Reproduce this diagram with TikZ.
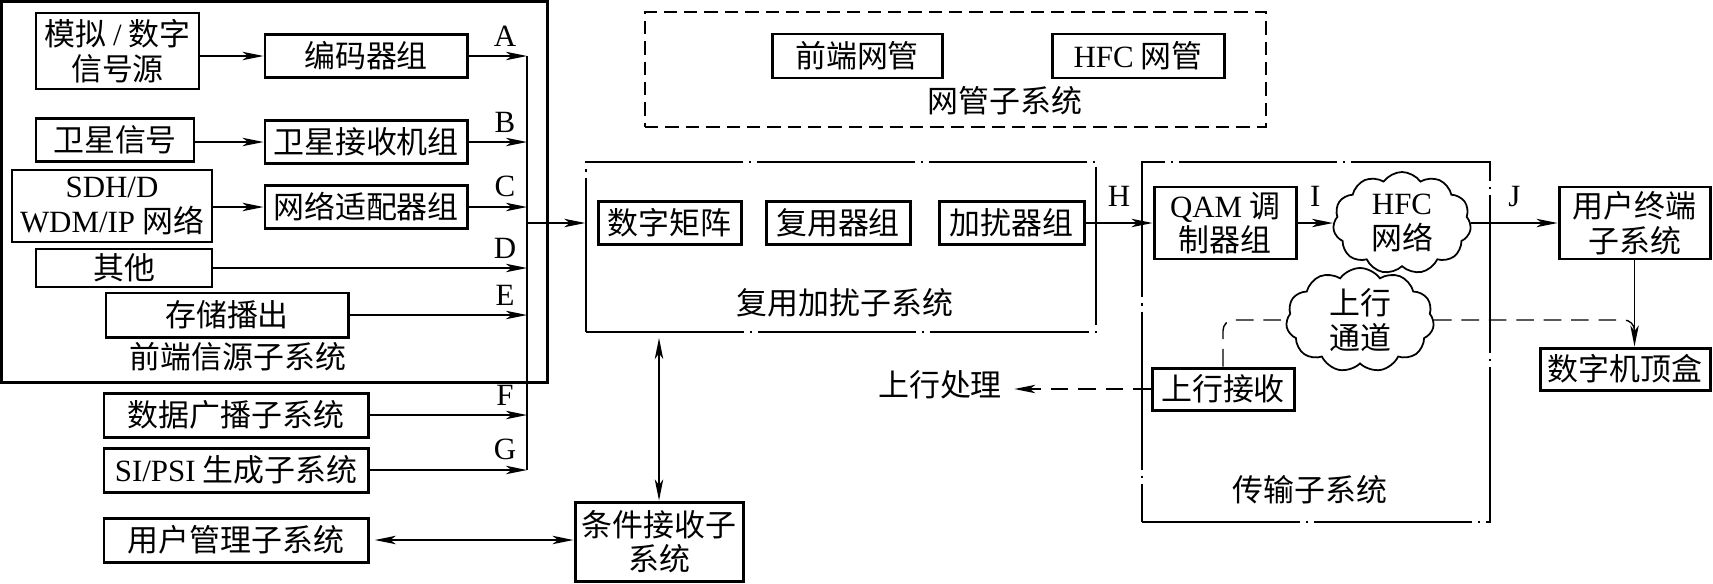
\documentclass[tikz,border=0pt]{standalone}
\usepackage{fontspec}
\setmainfont{Liberation Serif}
\newfontfamily\cjk{Noto Sans CJK SC}
\usetikzlibrary{arrows.meta, calc, positioning, shapes.symbols}
\newcommand{\la}[1]{{\rmfamily #1}}

\begin{document}
\begin{tikzpicture}[x=1cm, y=-1cm, >={Stealth[length=6pt,width=2.4pt,inset=1.6pt]},
  every node/.style={font=\cjk\fontsize{8.8pt}{9.8pt}\selectfont},
  box/.style 2 args={draw, line width=0.85pt, inner sep=0pt, align=center, minimum width=#1cm, minimum height=#2cm},
  frm/.style 2 args={draw, line width=0.4pt, inner sep=0pt, minimum width=#1cm, minimum height=#2cm, dash pattern=on 45pt off 1.7pt on 0.6pt off 1.7pt},
  cld/.style 2 args={cloud, draw, line width=0.5pt, cloud puffs=11, cloud puff arc=110, aspect=1.3, inner sep=0pt, align=center, minimum width=#1cm, minimum height=#2cm},
  arr/.style={->, line width=0.5pt},
  arr2/.style={<->, line width=0.5pt, shorten <=1.5pt},
  dsh/.style={line width=0.4pt, dash pattern=on 5pt off 2.8pt},
  lbl/.style={font=\fontsize{8.8pt}{9.8pt}\selectfont\rmfamily, above=-0.8pt, xshift=-2.2mm},
  mlbl/.style={font=\fontsize{8.8pt}{9.8pt}\selectfont\rmfamily, midway, above=1pt}]
  \useasboundingbox (0,0) rectangle (17.13,5.83);

  % front-end source subsystem
  \node[draw, line width=0.85pt, inner sep=0pt, minimum width=5.455cm, minimum height=3.805cm] (srcf) at (2.7425,1.9175) {};
  \node[box={1.63}{0.76}] (src) at (1.175,0.51) {模拟 \la{/} 数字\\信号源};
  \node[box={2.02}{0.43}] (enc) at (3.66,0.56) {编码器组};
  \node[box={1.58}{0.43}] (sat) at (1.15,1.40) {卫星信号};
  \node[box={2.02}{0.43}] (satrx) at (3.66,1.42) {卫星接收机组};
  \node[box={2.00}{0.72}] (sdh) at (1.12,2.06) {\la{SDH/D}\\\la{WDM/IP} 网络};
  \node[box={2.02}{0.43}] (netad) at (3.66,2.07) {网络适配器组};
  \node[box={1.76}{0.38}] (oth) at (1.24,2.68) {其他};
  \node[box={2.42}{0.44}] (store) at (2.27,3.15) {存储播出};
  \node (srcl) at (2.38,3.57) {前端信源子系统};
  \node[box={2.64}{0.44}] (data) at (2.36,4.15) {数据广播子系统};
  \node[box={2.64}{0.44}] (si) at (2.36,4.70) {\la{SI/PSI} 生成子系统};
  \node[box={2.64}{0.44}] (umg) at (2.36,5.40) {用户管理子系统};
  \node[box={1.68}{0.79}] (ca) at (6.59,5.415) {条件接收子\\系统};

  % network management
  \node[draw, line width=0.4pt, inner sep=0pt, minimum width=6.21cm, minimum height=1.15cm, dash pattern=on 3.8pt off 2pt] (nmsf) at (9.555,0.695) {};
  \node[box={1.70}{0.44}] (hnm) at (8.57,0.56) {前端网管};
  \node[box={1.72}{0.44}] (hfcnm) at (11.38,0.56) {\la{HFC} 网管};
  \node (nmsl) at (10.05,1.01) {网管子系统};

  % mux / scrambling
  \node[frm={5.10}{1.70}] (muxf) at (8.41,2.47) {};
  \node[box={1.43}{0.43}] (mat) at (6.695,2.23) {数字矩阵};
  \node[box={1.44}{0.43}] (mul) at (8.38,2.23) {复用器组};
  \node[box={1.45}{0.43}] (scr) at (10.115,2.23) {加扰器组};
  \node (muxl) at (8.45,3.03) {复用加扰子系统};

  % transmission
  \node[frm={3.48}{3.60}] (trf) at (13.16,3.42) {};
  \node[box={1.42}{0.72}] (qam) at (12.25,2.23) {\la{QAM} 调\\制器组};
  \node[cld={1.38}{1.02}] (hfc) at (14.02,2.23) {\la{HFC}\\网络};
  \node[cld={1.48}{1.04}] (upch) at (13.60,3.20) {上行\\通道};
  \node[box={1.42}{0.42}] (uprx) at (12.23,3.89) {上行接收};
  \node (trl) at (13.10,4.90) {传输子系统};
  \node (upp) at (9.40,3.85) {上行处理};

  % user side
  \node[box={1.51}{0.72}] (usr) at (16.345,2.23) {用户终端\\子系统};
  \node[box={1.70}{0.42}] (stb) at (16.25,3.69) {数字机顶盒};

  % connectors
  \coordinate (bus) at (5.27,0);
  \draw[arr] (src.east |- enc) -- (enc);
  \draw[arr] (sat.east |- satrx) -- (satrx);
  \draw[arr] (sdh.east |- netad) -- (netad);
  \foreach \n/\t in {enc/A, satrx/B, netad/C, oth/D, store/E, data/F, si/G}
    \draw[arr] (\n) -- (\n -| bus) node[lbl] {\t};
  \draw[line width=0.5pt] (enc -| bus) -- (si -| bus);
  \draw[arr] (mat -| bus) -- (mat -| muxf.west);
  \draw[arr] (scr) -- (qam) node[mlbl] {H};
  \draw[arr] (qam) -- (hfc) node[mlbl] {I};
  \draw[arr] (hfc) -- (usr) node[mlbl] {J};
  \draw[arr] (usr.south) -- (usr.south |- stb.north);
  \coordinate (jn) at ($(usr.south |- upch.east)+(0,0.12)$);
  \draw[dsh, rounded corners=3pt] (uprx.north) |- (upch.west);
  \draw[dsh, rounded corners=3pt] (upch.east) -| (jn);
  \draw[dsh, ->] (uprx.west) -- (uprx.west -| upp.east);
  \draw[arr2] (muxf.south -| ca) -- (ca);
  \draw[arr2] (umg) -- (umg -| ca.west);
\end{tikzpicture}
\end{document}
